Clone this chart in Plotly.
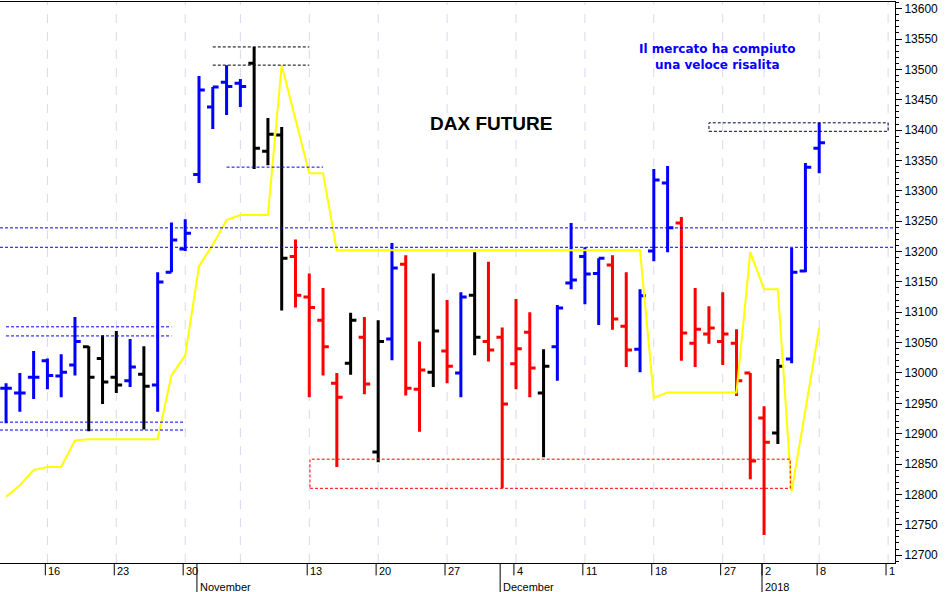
import plotly.graph_objects as go

# OHLC values, one per trading day (index 0 = 11 Oct 2017 ... 59 = 8 Jan 2018)
opens = [12975,12967,12993,13020,12995,13013,13043,13024,12993,12987,12998,12980,13166,13204,13327,
         13438,13479,13477,13510,13365,13392,13192,13125,13087,12983,13016,13059,12870,13056,13179,
         12973,13001,13036,13000,13128,13052,13059,13015,13067,12967,13043,13148,13192,13164,13178,
         13077,13039,13201,13313,13247,13049,13064,13052,13049,13000,12926,12901,13023,13168,13370]
highs = [12983,13000,13036,13024,13031,13092,13044,13062,13069,13056,13044,13166,13248,13253,13489,
         13471,13507,13484,13537,13420,13405,13220,13164,13140,13000,13099,13092,13087,13214,13194,
         13052,13164,13120,13133,13199,13183,13075,13122,13100,13039,13112,13247,13207,13189,13194,
         13166,13138,13336,13341,13257,13140,13110,13133,13072,13000,12945,13023,13206,13346,13412]
lows = [12917,12936,12957,12973,12960,12996,12904,12949,12967,12977,12907,12936,13166,13201,13313,
        13402,13425,13438,13336,13342,13103,13108,12960,12996,12845,12997,12965,12853,13021,12963,
        12903,12977,12983,12960,13029,13019,12810,12973,12960,12861,12987,13138,13113,13079,13071,
        13010,13001,13184,13199,13020,13010,13048,13013,12962,12825,12733,12883,13016,13166,13329]
closes = [12975,12967,12993,12996,13001,13052,12993,12985,12980,13010,12978,13150,13219,13230,13466,
          13471,13472,13472,13370,13393,13189,13128,13108,13043,12960,13087,12982,13052,13173,12975,
          13005,13069,13011,13125,13059,13038,12949,13040,13008,13011,13107,13153,13163,13189,13089,
          13038,13127,13318,13239,13066,13072,13074,13064,12987,12855,12886,13011,13166,13339,13379]
colors = ["b","b","b","b","b","b","k","k","k","b","k","b","b","b","b",
          "b","b","b","k","k","k","r","r","r","r","k","r","k","b","r",
          "r","k","r","b","k","r","r","r","r","k","b","b","b","b","r",
          "r","b","b","b","r","r","r","r","r","r","r","k","b","b","b"]
yellow = [12796,12815,12840,12845,12845,12889,12891,12891,12891,12891,12891,12891,12996,13029,13176,
          13211,13252,13260,13260,13260,13507,13418,13329,13329,13202,13202,13202,13202,13202,13202,
          13202,13202,13202,13202,13202,13202,13202,13202,13202,13202,13202,13202,13202,13202,13202,
          13202,13202,12959,12968,12968,12968,12968,12968,12968,13199,13138,13138,12805,12939,13074]

day_ticks = [3, 8, 13, 22, 27, 32, 37, 42, 47, 52, 55, 59, 64]
day_labels = ["16", "23", "30", "13", "20", "27", "4", "11", "18", "27", "2", "8", "1"]
grid_ticks = [3, 8, 13, 17, 22, 27, 32, 37, 42, 47, 52, 55, 59, 64]
month_pos = [14, 36, 55]
month_labels = ["November", "December", "2018"]

col_map = {"b": "#0000ff", "k": "#000000", "r": "#ff0000"}
fig = go.Figure()
for c in ["b", "k", "r"]:
    idx = [i for i, cc in enumerate(colors) if cc == c]
    fig.add_trace(go.Ohlc(
        x=idx, open=[opens[i] for i in idx], high=[highs[i] for i in idx],
        low=[lows[i] for i in idx], close=[closes[i] for i in idx],
        increasing=dict(line=dict(color=col_map[c], width=3)),
        decreasing=dict(line=dict(color=col_map[c], width=3)),
        tickwidth=0.42, hoverinfo="skip", showlegend=False))

fig.add_trace(go.Scatter(x=list(range(len(yellow))), y=yellow, mode="lines",
                         line=dict(color="#ffff00", width=2), showlegend=False, hoverinfo="skip"))

shapes = []
DASH = "3px,2px"
def hl(x0, x1, y, color, xref="x"):
    shapes.append(dict(type="line", xref=xref, yref="y", x0=x0, x1=x1, y0=y, y1=y,
                       line=dict(color=color, width=1, dash=DASH)))
blue = "#0000ff"
hl(0, 1, 13239, blue, "paper"); hl(0, 1, 13207, blue, "paper")
hl(0, 12, 13076, blue); hl(0, 12, 13061, blue)
hl(-0.44, 13, 12919, blue); hl(-0.44, 13, 12906, blue)
hl(15, 22, 13537, "#000000"); hl(15, 22, 13507, "#000000")
hl(16, 23, 13339, blue)
shapes.append(dict(type="rect", xref="x", yref="y", x0=51, x1=64, y0=13398, y1=13412,
                   line=dict(color="#000040", width=1, dash=DASH)))
shapes.append(dict(type="rect", xref="x", yref="y", x0=22.05, x1=56.9, y0=12810, y1=12858,
                   line=dict(color="#ff0000", width=1, dash=DASH)))
for g in grid_ticks:
    shapes.append(dict(type="line", xref="x", yref="paper", x0=g, x1=g, y0=0, y1=1,
                       line=dict(color="#d8d8f0", width=1, dash="dash"), layer="below"))
for t in day_ticks:
    shapes.append(dict(type="line", xref="x", yref="paper", x0=t - 0.15, x1=t - 0.15, y0=0, y1=-0.022,
                       line=dict(color="black", width=1)))
for m in month_pos:
    shapes.append(dict(type="line", xref="x", yref="paper", x0=m - 0.15, x1=m - 0.15, y0=0, y1=-0.06,
                       line=dict(color="black", width=1)))

ann = []
for t, l in zip(day_ticks, day_labels):
    ann.append(dict(x=t, y=0.0, xref="x", yref="paper", text=l, showarrow=False,
                    xanchor="left", yanchor="top", xshift=-1,
                    font=dict(family="Liberation Sans, Arial", size=11, color="black")))
for m, l in zip(month_pos, month_labels):
    ann.append(dict(x=m, y=-0.029, xref="x", yref="paper", text=l, showarrow=False,
                    xanchor="left", yanchor="top", xshift=-1,
                    font=dict(family="Liberation Sans, Arial", size=11, color="black")))
ann.append(dict(x=0.549, y=13411, xref="paper", yref="y", text="<b>DAX FUTURE</b>", showarrow=False,
                xanchor="center",
                font=dict(family="Liberation Sans, Arial", size=19, color="black")))
ann.append(dict(x=0.802, y=13520, xref="paper", yref="y", xanchor="center",
                text="<b>Il mercato ha compiuto<br>una veloce risalita</b>", showarrow=False,
                font=dict(family="DejaVu Sans, Verdana", size=12, color="#0000ff")))

fig.update_layout(
    width=945, height=592, margin=dict(l=0, r=50, t=2, b=29, autoexpand=False),
    paper_bgcolor="white", plot_bgcolor="white",
    shapes=shapes, annotations=ann,
    xaxis=dict(range=[-0.44, 64.5], rangeslider=dict(visible=False), showgrid=False,
               showticklabels=False, ticks="", zeroline=False,
               showline=True, linecolor="black", mirror=True),
    yaxis=dict(range=[12687, 13611], side="right", tickmode="linear", tick0=12700, dtick=50,
               tickformat="d", automargin=False,
               ticks="outside", ticklen=6, tickcolor="black", showgrid=False, zeroline=False,
               showline=True, linecolor="black",
               minor=dict(dtick=10, ticks="outside", ticklen=3, tickcolor="black"),
               tickfont=dict(family="Liberation Sans, Arial", size=12, color="black")),
)
fig.write_html("out.html", config={"displayModeBar": False},
               post_script="document.body.style.margin='0';document.body.style.overflow='hidden';")
